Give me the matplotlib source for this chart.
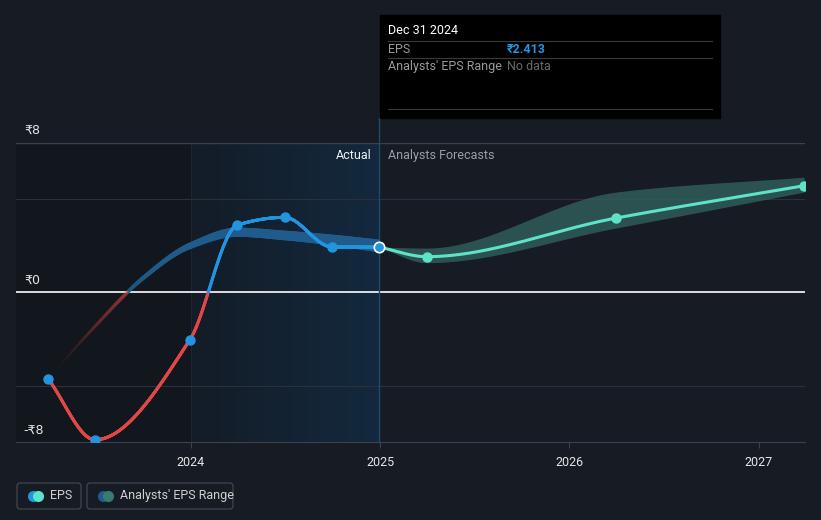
import numpy as np
import matplotlib
matplotlib.use('Agg')
import matplotlib.pyplot as plt
from matplotlib.collections import LineCollection, PolyCollection
from matplotlib.patches import FancyBboxPatch, Rectangle
from matplotlib.colors import to_rgba, LinearSegmentedColormap

plt.rcParams['font.family'] = ['Roboto', 'DejaVu Sans']

# reported EPS (quarter ends, decimal years)
eps_x = [2023.245, 2023.493, 2023.995, 2024.245, 2024.495, 2024.745, 2024.995]
eps_y = [-4.62, -7.88, -2.53, 3.59, 4.0, 2.42, 2.413]

# analysts' forecast EPS
fc_x = [2024.995, 2025.245, 2026.245, 2027.24]
fc_y = [2.413, 1.90, 3.96, 5.69]
fc_lo = [2.413, 1.58, 3.43, 5.35]
fc_hi = [2.413, 2.36, 5.35, 6.15]

# past analysts' range
past_x = [2023.245, 2023.493, 2023.745, 2023.995, 2024.245, 2024.495, 2024.745, 2024.995]
past_lo = [-4.66, -1.92, 0.62, 2.32, 2.98, 2.80, 2.52, 2.15]
past_hi = [-4.58, -1.72, 0.86, 2.64, 3.43, 3.27, 3.06, 2.79]

year_ticks = [2024, 2025, 2026, 2027]
y_labels = [(8, '₹8'), (0, '₹0'), (-8, '-₹8')]

BG = '#161b24'
BLUE = '#2394df'
RED = '#e04848'
TEAL = '#5de3c8'
BAND_BLUE = '#1f5c8c'
BAND_TEAL = '#2f5d5a'


def monotone(x, y, xs):
    x = np.asarray(x, float); y = np.asarray(y, float)
    h = np.diff(x); d = np.diff(y) / h
    m = np.zeros_like(y)
    m[0], m[-1] = d[0], d[-1]
    for k in range(1, len(x) - 1):
        if d[k - 1] * d[k] <= 0:
            m[k] = 0
        else:
            w1 = 2 * h[k] + h[k - 1]
            w2 = h[k] + 2 * h[k - 1]
            m[k] = (w1 + w2) / (w1 / d[k - 1] + w2 / d[k])
    out = np.empty_like(xs)
    idx = np.clip(np.searchsorted(x, xs) - 1, 0, len(x) - 2)
    for j, xv in enumerate(xs):
        k = idx[j]
        t = (xv - x[k]) / h[k]
        h00 = 2 * t**3 - 3 * t**2 + 1
        h10 = t**3 - 2 * t**2 + t
        h01 = -2 * t**3 + 3 * t**2
        h11 = t**3 - t**2
        out[j] = h00 * y[k] + h10 * h[k] * m[k] + h01 * y[k + 1] + h11 * h[k] * m[k + 1]
    return out


fig = plt.figure(figsize=(8.21, 5.20), dpi=100)
fig.patch.set_facecolor(BG)
ax = fig.add_axes([16 / 821, 78 / 520, 789 / 821, 299.5 / 520])
ax.set_facecolor(BG)
x0, x1 = 2023.0757, 2027.245
ax.set_xlim(x0, x1)
ax.set_ylim(-8, 8)

# shaded regions
ax.axvspan(x0, 2024.0, color='#12161d', zorder=0, lw=0)
grad = LinearSegmentedColormap.from_list('g', ['#141c27', '#13293e'])
ax.imshow(np.linspace(0, 1, 256).reshape(1, -1), cmap=grad, aspect='auto',
          extent=[2024.0, 2024.995, -8, 8], zorder=0.5)
ax.axvline(2024.0, color='#1a2735', lw=0.8, zorder=0.6)

# grid
for g in [-5, 5]:
    ax.axhline(g, color='#2a313b', lw=0.8, zorder=1)
ax.axhline(8, color='#3c424c', lw=1, zorder=1)
ax.axhline(0, color='white', lw=1.2, zorder=2)

ax.axvline(2024.995, ymin=0, ymax=(442 - 118) / 299.5, color='#1f4a6c', lw=1,
           clip_on=False, zorder=2)

# past range band with fade-in
px = np.linspace(past_x[0], past_x[-1], 600)
plo = monotone(past_x, past_lo, px)
phi = monotone(past_x, past_hi, px)
polys, cols = [], []
for i in range(len(px) - 1):
    polys.append([(px[i], plo[i]), (px[i + 1], plo[i + 1]),
                  (px[i + 1], phi[i + 1]), (px[i], phi[i])])
    a = np.clip((px[i] - past_x[0]) / 0.7, 0, 1) ** 1.4
    mid = 0.5 * (plo[i] + phi[i])
    base = RED if mid < 0 else BAND_BLUE
    c = to_rgba(base, a * (0.5 if mid < 0 else 1.0))
    cols.append(c)
ax.add_collection(PolyCollection(polys, facecolors=cols, edgecolors=cols, lw=0.6, zorder=3))

# forecast band
fx = np.linspace(fc_x[0], fc_x[-1], 400)
ax.fill_between(fx, monotone(fc_x, fc_lo, fx), monotone(fc_x, fc_hi, fx),
                color=BAND_TEAL, alpha=0.85, lw=0, zorder=3)

# EPS actual line, red below zero, blue above
ex = np.linspace(eps_x[0], eps_x[-1], 1200)
ey = monotone(eps_x, eps_y, ex)
segs = np.stack([np.column_stack([ex[:-1], ey[:-1]]), np.column_stack([ex[1:], ey[1:]])], axis=1)
seg_cols = [RED if (a + b) / 2 < 0 else BLUE for a, b in zip(ey[:-1], ey[1:])]
ax.add_collection(LineCollection(segs, colors=seg_cols, lw=2.2, capstyle='round', zorder=4))
ax.plot(eps_x[:-1], eps_y[:-1], 'o', color=BLUE, ms=6.5, zorder=5)

# forecast line
fy = monotone(fc_x, fc_y, fx)
ax.plot(fx, fy, color=TEAL, lw=2.2, zorder=4, solid_capstyle='round')
ax.plot(fc_x[1:], fc_y[1:], 'o', color=TEAL, ms=6.5, zorder=5)
ax.plot(eps_x[-1], eps_y[-1], 'o', color=BLUE, mec='white', mew=1.2, ms=7.5, zorder=6)

# axes styling
for s in ['top', 'right', 'left']:
    ax.spines[s].set_visible(False)
ax.spines['bottom'].set_color('#3c424c')
ax.set_yticks([])
ax.set_xticks(year_ticks)
ax.set_xticklabels([str(y) for y in year_ticks])
ax.tick_params(axis='x', colors='#3c424c', labelcolor='#e6e6e6', labelsize=9, length=4, pad=6)

# overlay in pixel coordinates for labels, tooltip and legend
ov = fig.add_axes([0, 0, 1, 1])
ov.set_xlim(0, 821)
ov.set_ylim(520, 0)
ov.axis('off')
ov.patch.set_alpha(0)

for v, lab in y_labels:
    ypix = 292.3 - v * 18.72 - 12
    ov.text(24 if v >= 0 else 23, ypix, lab, color='#e6e6e6', fontsize=9,
            ha='left', va='center', family=['DejaVu Sans'], zorder=6)

ax.text(2024.955, 7.3, 'Actual', color='#f0f0f0', fontsize=9, ha='right', va='center')
ax.text(2025.04, 7.3, 'Analysts Forecasts', color='#9a9ea4', fontsize=9, ha='left', va='center')

ov.add_patch(Rectangle((380, 15), 340, 103, color='black', zorder=1))
for yy in [41, 58, 109]:
    ov.plot([388, 712], [yy, yy], color='#3a3a3a', lw=0.8, zorder=2)
ov.text(388, 31, 'Dec 31 2024', color='white', fontsize=9, va='center', zorder=3)
ov.text(388, 49.5, 'EPS', color='#9a9a9a', fontsize=9, va='center', zorder=3)
ov.text(507, 49.5, '₹2.413', color=BLUE, fontsize=9, va='center', fontweight='bold', zorder=3)
ov.text(388, 66.5, "Analysts' EPS Range", color='#9a9a9a', fontsize=9, va='center', zorder=3)
ov.text(507, 66.5, 'No data', color='#6a6a6a', fontsize=9, va='center', zorder=3)

# legend
ov.add_patch(FancyBboxPatch((17, 483), 64, 26, boxstyle='round,pad=0,rounding_size=3',
                            fc='none', ec='#3c424c', lw=1))
ov.add_patch(FancyBboxPatch((87, 483), 146, 26, boxstyle='round,pad=0,rounding_size=3',
                            fc='none', ec='#3c424c', lw=1))
ov.plot([33], [495.5], 'o', color=BLUE, ms=7)
ov.plot([38], [495.5], 'o', color=TEAL, ms=7)
ov.plot([103], [495.5], 'o', color=BAND_BLUE, ms=7)
ov.plot([108], [495.5], 'o', color='#3a7a72', ms=7)
ov.text(50, 495.5, 'EPS', color='#d0d0d0', fontsize=9, va='center')
ov.text(120, 495.5, "Analysts' EPS Range", color='#d0d0d0', fontsize=9, va='center')

fig.savefig('out.png', dpi=100, facecolor=BG)
